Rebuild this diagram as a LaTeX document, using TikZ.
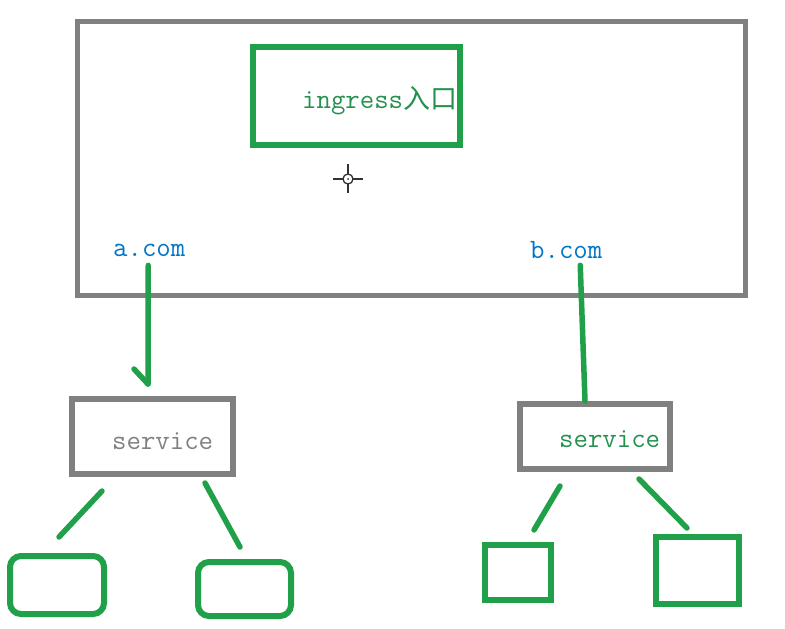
\documentclass[tikz,border=0pt]{standalone}
\usepackage{fontspec}
\newfontfamily\cjkfnt{Noto Sans CJK SC}
\definecolor{boxgray}{RGB}{128,128,128}
\definecolor{hgreen}{RGB}{32,160,72}
\definecolor{tgreen}{RGB}{36,145,78}
\definecolor{tblue}{RGB}{0,118,200}
\definecolor{cursor}{RGB}{50,50,50}
\tikzset{
  graybox/.style={draw=boxgray, line width=6pt, rectangle, inner sep=0pt},
  greenbox/.style={draw=hgreen, line width=6pt, rectangle, inner sep=0pt},
  roundbox/.style={draw=hgreen, line width=6pt, rectangle, rounded corners=11pt, inner sep=0pt},
  pen/.style={draw=hgreen, line width=5.5pt, line cap=round},
  lbl/.style={inner sep=0pt, anchor=base west, font=\ttfamily\fontsize{28}{30}\selectfont},
}
\begin{document}
\begin{tikzpicture}[x=1pt,y=-1pt]
\useasboundingbox (0,0) rectangle (785,629);
% outer ingress area
\node[graybox, line width=5pt, minimum width=668pt, minimum height=274pt] (outer) at (411,158) {};
\node[greenbox, minimum width=207pt, minimum height=98pt] (ingbox) at (356.5,96) {};
\node[lbl, text=tgreen] (ingtext) at (302,108) {ingress{\cjkfnt\fontsize{27}{28}\selectfont 入口}};
% cursor
\coordinate (cur) at (348,179);
\draw[cursor, line width=1.3pt] (cur) circle (5);
\fill[cursor] (cur) circle (1);
\draw[cursor, line width=1.6pt] ([xshift=-15pt]cur) -- ([xshift=-5pt]cur)
  ([xshift=5pt]cur) -- ([xshift=15pt]cur)
  ([yshift=15pt]cur) -- ([yshift=5pt]cur)
  ([yshift=-5pt]cur) -- ([yshift=-14pt]cur);
% host labels
\node[lbl, text=tblue] (acom) at (113,256) {a.com};
\node[lbl, text=tblue] (bcom) at (530,258) {b.com};
% services
\node[graybox, minimum width=161pt, minimum height=75pt] (svcA) at (152.5,436.5) {};
\node[lbl, text=boxgray] (svcAt) at (112,449) {service};
\node[graybox, minimum width=150pt, minimum height=65pt] (svcB) at (595,436.5) {};
\node[lbl, text=tgreen] (svcBt) at (559,447) {service};
% pods
\node[roundbox, minimum width=94pt, minimum height=58pt] (podA1) at (57,585) {};
\node[roundbox, minimum width=93pt, minimum height=54pt] (podA2) at (244.5,589) {};
\node[greenbox, minimum width=66pt, minimum height=55pt] (podB1) at (518,572.5) {};
\node[greenbox, minimum width=83pt, minimum height=67pt] (podB2) at (697.5,570.5) {};
% connectors
\coordinate (aend) at ([xshift=-4.5pt,yshift=12pt]svcA.north);
\draw[pen] ([xshift=-1pt,yshift=-9pt]acom.south) -- (aend);
\draw[pen] (aend) -- ([xshift=-14pt,yshift=15pt]aend);
\draw[pen] ([xshift=14pt,yshift=-7pt]bcom.south) -- ([xshift=-10pt]svcB.north);
\draw[pen] ([xshift=33pt,yshift=-14pt]svcA.south west) -- ([xshift=2pt,yshift=16pt]podA1.north);
\draw[pen] ([xshift=-31pt,yshift=-6pt]svcA.south east) -- ([xshift=-4.5pt,yshift=12pt]podA2.north);
\draw[pen] ([xshift=43pt,yshift=-14pt]svcB.south west) -- ([xshift=16pt,yshift=12pt]podB1.north);
\draw[pen] ([xshift=-34pt,yshift=-7pt]svcB.south east) -- ([xshift=-10.5pt,yshift=6pt]podB2.north);
\end{tikzpicture}
\end{document}
